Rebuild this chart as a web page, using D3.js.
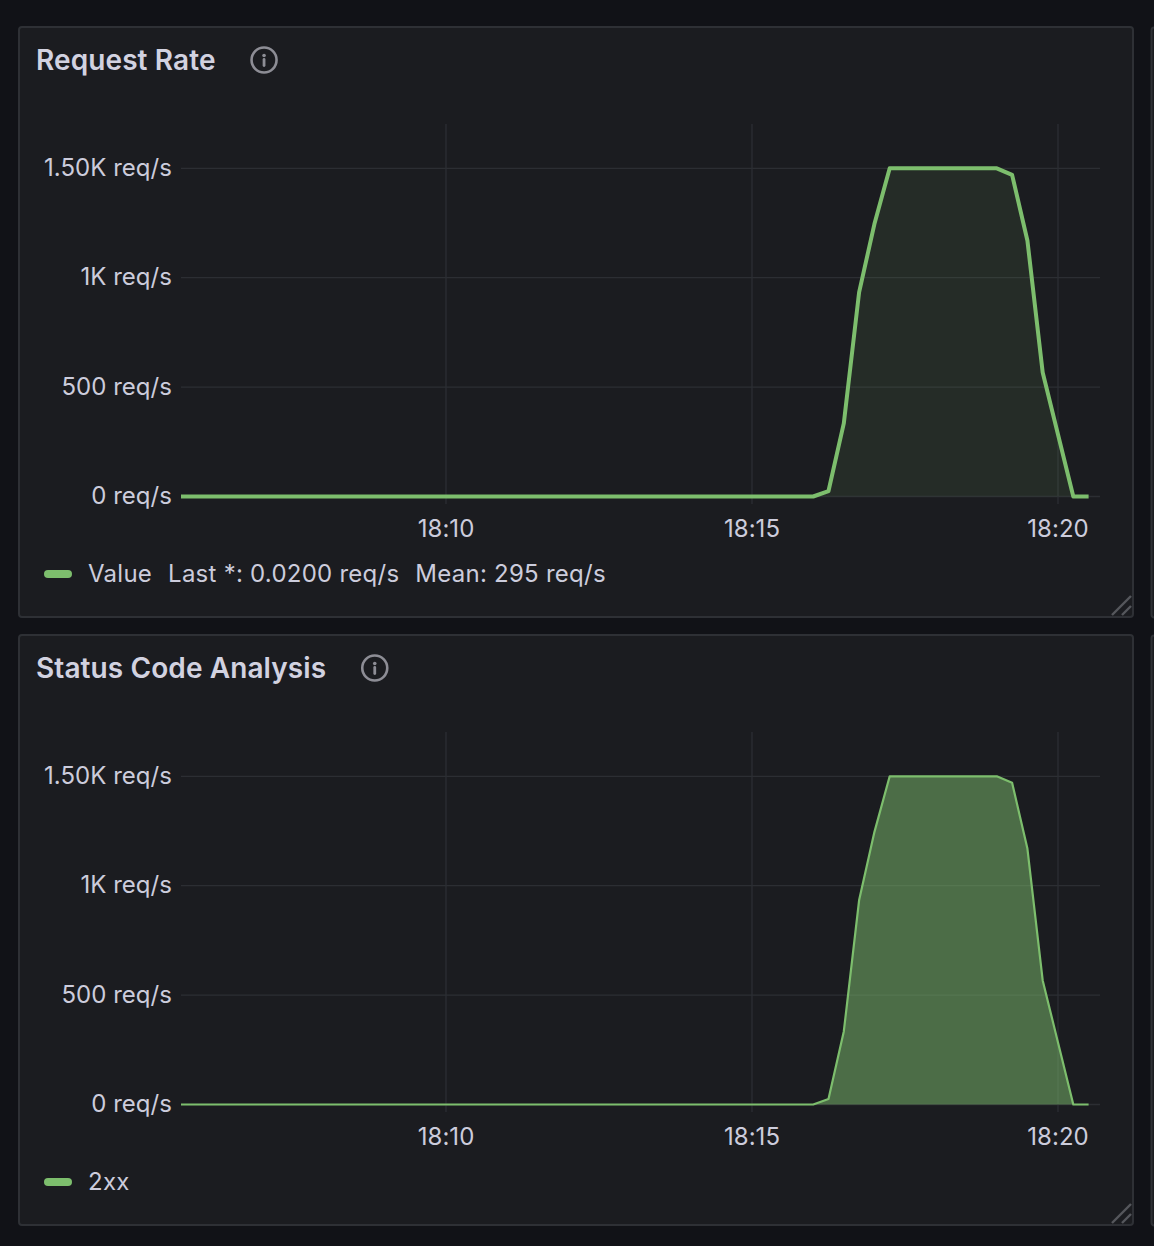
<!DOCTYPE html>
<html>
<head>
<meta charset="utf-8">
<script src="https://cdn.jsdelivr.net/npm/d3@7"></script>
<style>
  html, body { margin: 0; padding: 0; background: #111217; overflow: hidden; }
  svg { display: block; font-family: Inter, "Noto Sans", sans-serif; }
  .tick text { fill: #ccccdc; font-size: 24px; letter-spacing: 0.04px; font-family: Inter, "Noto Sans", sans-serif; }
  .tick line { stroke: #2c2e33; stroke-width: 1.3; }
  .domain { display: none; }
</style>
</head>
<body>
<svg id="chart" width="1154" height="1246"></svg>
<script>
// samples are 15s apart
var times = [
  "18:05:30","18:05:45","18:06:00","18:06:15","18:06:30","18:06:45","18:07:00","18:07:15",
  "18:07:30","18:07:45","18:08:00","18:08:15","18:08:30","18:08:45","18:09:00","18:09:15",
  "18:09:30","18:09:45","18:10:00","18:10:15","18:10:30","18:10:45","18:11:00","18:11:15",
  "18:11:30","18:11:45","18:12:00","18:12:15","18:12:30","18:12:45","18:13:00","18:13:15",
  "18:13:30","18:13:45","18:14:00","18:14:15","18:14:30","18:14:45","18:15:00","18:15:15",
  "18:15:30","18:15:45","18:16:00","18:16:15","18:16:30","18:16:45","18:17:00","18:17:15",
  "18:17:30","18:17:45","18:18:00","18:18:15","18:18:30","18:18:45","18:19:00","18:19:15",
  "18:19:30","18:19:45","18:20:00","18:20:15","18:20:30"
];
var values = [
  0,0,0,0,0,0,0,0,
  0,0,0,0,0,0,0,0,
  0,0,0,0,0,0,0,0,
  0,0,0,0,0,0,0,0,
  0,0,0,0,0,0,0,0,
  0,0,0,25,334,933,1245,1500,
  1500,1500,1500,1500,1500,1500,1500,1470,
  1170,567,283,0,0.02
];
var yTicks = [0, 500, 1000, 1500];
var yTickLabels = ["0 req/s", "500 req/s", "1K req/s", "1.50K req/s"];
var xTicks = ["18:10:00", "18:15:00", "18:20:00"];
var panelTitles = ["Request Rate", "Status Code Analysis"];
var legendTexts = [["Value", "Last *: 0.0200 req/s", "Mean: 295 req/s"], ["2xx"]];

var GREEN = "#7dbe6d";
var parseTime = d3.timeParse("%H:%M:%S");
var svg = d3.select("#chart");

var x = d3.scaleTime()
  .domain([parseTime("18:10:00"), parseTime("18:20:00")])
  .range([446, 1058]);

function drawPanel(i, opts) {
  var g = svg.append("g").attr("transform", "translate(0," + opts.dy + ")");

  // neighbour panel peeking in on the right
  g.append("rect")
    .attr("x", 1151.5).attr("y", 27.5).attr("width", 30).attr("height", 590).attr("rx", 3)
    .attr("fill", "#1b1c20").attr("stroke", "#2e3035").attr("stroke-width", 2);

  g.append("rect")
    .attr("x", 19).attr("y", 27).attr("width", 1114).attr("height", 590).attr("rx", 3)
    .attr("fill", "#1b1c20").attr("stroke", "#2e3035").attr("stroke-width", 2);

  var title = g.append("text")
    .attr("x", 36).attr("y", 70)
    .attr("fill", "#d2d2e0")
    .attr("font-size", 28).attr("font-weight", 600)
    .attr("letter-spacing", 0.1)
    .text(panelTitles[i]);

  // info icon sits a fixed gap after the title
  var iconX = title.node().getComputedTextLength() + 36 + 48.5;
  var icon = g.append("g").attr("transform", "translate(" + iconX + ",60)");
  icon.append("circle").attr("r", 12.5).attr("fill", "none").attr("stroke", "#8d8d95").attr("stroke-width", 2.6);
  icon.append("circle").attr("cy", -4.5).attr("r", 1.8).attr("fill", "#8d8d95");
  icon.append("line").attr("y1", -0.5).attr("y2", 5.5).attr("stroke", "#8d8d95").attr("stroke-width", 2.8).attr("stroke-linecap", "round");

  var y = d3.scaleLinear().domain([0, 1500]).range([496.5, 168.3]);

  var yAxis = d3.axisLeft(y)
    .tickValues(yTicks)
    .tickFormat(function(d, k) { return yTickLabels[k]; })
    .tickSize(-919)
    .tickPadding(9)
    .offset(0);
  var xAxis = d3.axisBottom(x)
    .tickValues(xTicks.map(parseTime))
    .tickFormat(d3.timeFormat("%H:%M"))
    .tickSize(-380)
    .tickPadding(15)
    .offset(0);

  g.append("g").attr("transform", "translate(181,0)").call(yAxis)
    .selectAll("text").attr("y", -1).attr("dy", "0.35em");
  g.append("g").attr("transform", "translate(0,504)").call(xAxis)
    .selectAll("text").attr("y", 16).attr("dy", "0.71em");

  g.append("clipPath").attr("id", "plot" + i)
    .append("rect").attr("x", 181).attr("y", 124).attr("width", 919).attr("height", 380);

  var data = times.map(function(t, k) { return { t: parseTime(t), v: values[k] }; });
  var area = d3.area()
    .x(function(d) { return x(d.t); })
    .y0(y(0))
    .y1(function(d) { return y(d.v); });
  var line = d3.line()
    .x(function(d) { return x(d.t); })
    .y(function(d) { return y(d.v); });

  var plot = g.append("g").attr("clip-path", "url(#plot" + i + ")");
  plot.append("path").datum(data).attr("d", area)
    .attr("fill", GREEN).attr("fill-opacity", opts.fillOpacity);
  plot.append("path").datum(data).attr("d", line)
    .attr("fill", "none").attr("stroke", GREEN)
    .attr("stroke-width", opts.lineWidth).attr("stroke-linejoin", "round");

  // legend
  g.append("rect")
    .attr("x", 44).attr("y", 570).attr("width", 28).attr("height", 8).attr("rx", 4)
    .attr("fill", GREEN);
  var legendX = 88;
  legendTexts[i].forEach(function(s) {
    var t = g.append("text")
      .attr("x", legendX).attr("y", 582)
      .attr("fill", "#ccccdc").attr("font-size", 24)
      .attr("letter-spacing", 0.25)
      .text(s);
    legendX += t.node().getComputedTextLength() + 16;
  });

  // resize handle
  g.selectAll(".grip")
    .data([[1112, 615, 1131, 596], [1122, 615, 1131, 606]])
    .enter().append("line")
      .classed("grip", true)
      .attr("x1", function(d) { return d[0]; })
      .attr("y1", function(d) { return d[1]; })
      .attr("x2", function(d) { return d[2]; })
      .attr("y2", function(d) { return d[3]; })
      .attr("stroke", "#55575c").attr("stroke-width", 2.4);
}

drawPanel(0, { dy: 0, fillOpacity: 0.1, lineWidth: 4 });
drawPanel(1, { dy: 608, fillOpacity: 0.5, lineWidth: 2.2 });
</script>
</body>
</html>
